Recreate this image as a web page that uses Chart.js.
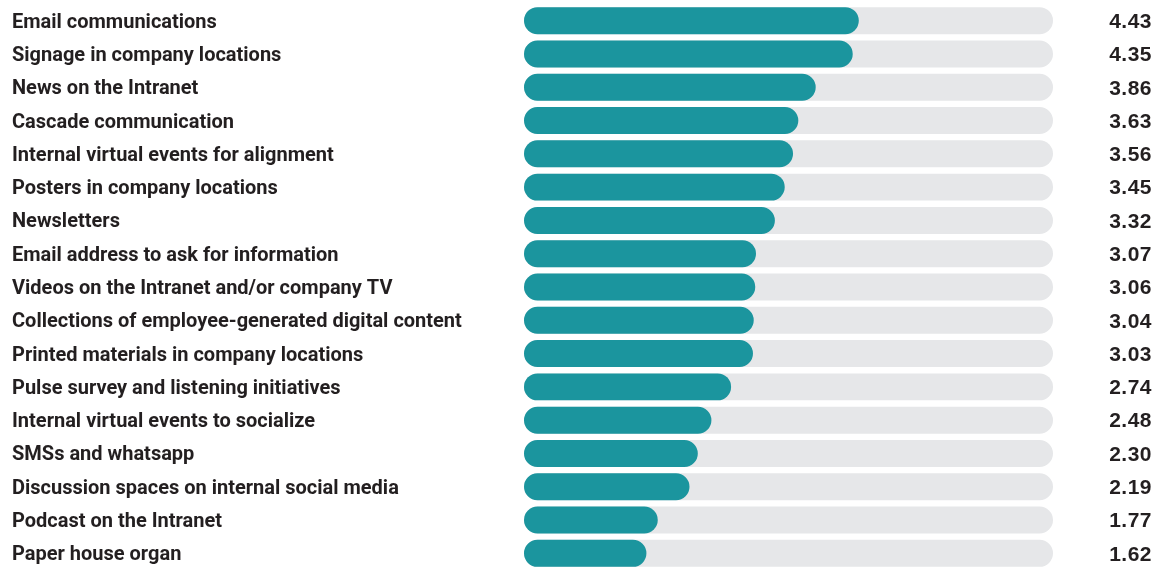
<!DOCTYPE html>
<html>
<head>
<meta charset="utf-8">
<script src="https://cdn.jsdelivr.net/npm/chart.js@4.4.1/dist/chart.umd.min.js"></script>
<style>
  html, body { margin: 0; padding: 0; background: #fff; overflow: hidden; }
  #wrap { position: relative; width: 1156px; height: 570px; }
</style>
</head>
<body>
<div id="wrap"><canvas id="channels"></canvas></div>
<script>
// channel names and their average scores (scale 0-7)
var channels = [
    'Email communications',
    'Signage in company locations',
    'News on the Intranet',
    'Cascade communication',
    'Internal virtual events for alignment',
    'Posters in company locations',
    'Newsletters',
    'Email address to ask for information',
    'Videos on the Intranet and/or company TV',
    'Collections of employee-generated digital content',
    'Printed materials in company locations',
    'Pulse survey and listening initiatives',
    'Internal virtual events to socialize',
    'SMSs and whatsapp',
    'Discussion spaces on internal social media',
    'Podcast on the Intranet',
    'Paper house organ'
];
var scores = [4.43, 4.35, 3.86, 3.63, 3.56, 3.45, 3.32, 3.07, 3.06, 3.04, 3.03, 2.74, 2.48, 2.30, 2.19, 1.77, 1.62];
var scaleMax = 7;
var track = channels.map(function () { return scaleMax; });

var labelFont = {family: 'Roboto', size: 20, weight: 'bold'};

// prints the score at the far right of each row
var valueLabels = {
    id: 'valueLabels',
    afterDatasetsDraw: function (chart) {
        var ctx = chart.ctx;
        var meta = chart.getDatasetMeta(0);
        ctx.save();
        ctx.font = 'bold 21px "Liberation Sans", Arial, sans-serif';
        ctx.letterSpacing = '0.5px';
        ctx.fillStyle = '#231f20';
        ctx.textAlign = 'right';
        ctx.textBaseline = 'middle';
        meta.data.forEach(function (bar, i) {
            ctx.fillText(scores[i].toFixed(2), 1152, bar.y + 1.5);
        });
        ctx.restore();
    }
};

var ctx = document.getElementById('channels').getContext('2d');
var chart = new Chart(ctx, {
    type: 'bar',
    data: {
        labels: channels,
        datasets: [
            {data: scores, backgroundColor: '#1b959e', grouped: false,
             borderRadius: 20, borderSkipped: false, barPercentage: 0.81, categoryPercentage: 1},
            {data: track, backgroundColor: '#e6e7e9', grouped: false,
             borderRadius: 20, borderSkipped: false, barPercentage: 0.81, categoryPercentage: 1}
        ]
    },
    options: {
        indexAxis: 'y',
        responsive: true,
        maintainAspectRatio: false,
        animation: false,
        layout: {autoPadding: false, padding: {left: 12, right: 103, top: 4, bottom: 0}},
        plugins: {legend: {display: false}, tooltip: {enabled: false}},
        scales: {
            x: {display: false, min: 0, max: scaleMax},
            y: {
                grid: {display: false},
                border: {display: false},
                ticks: {color: '#231f20', font: labelFont, crossAlign: 'far', padding: 0, labelOffset: 2},
                afterFit: function (scale) {
                    // fixed label column, and no extra room above/below the rows
                    scale.width = 512;
                    scale.paddingTop = 0;
                    scale.paddingBottom = 0;
                }
            }
        }
    },
    plugins: [valueLabels]
});
</script>
</body>
</html>
